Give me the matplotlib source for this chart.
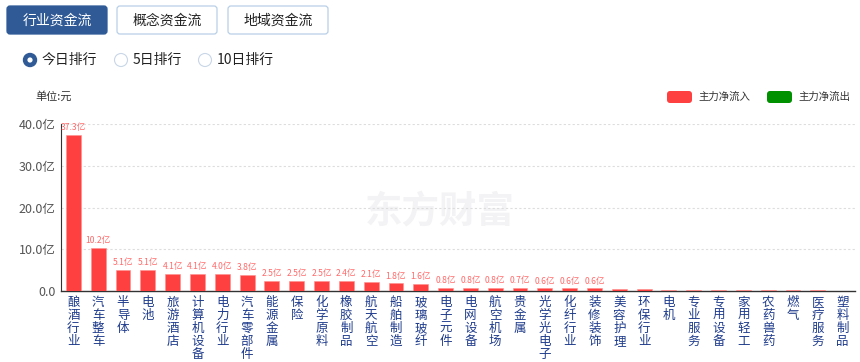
import matplotlib
matplotlib.use("Agg")
import matplotlib.pyplot as plt
from matplotlib.patches import FancyBboxPatch, Circle
from matplotlib.transforms import blended_transform_factory

plt.rcParams['font.family'] = ['Noto Sans CJK SC', 'DejaVu Sans']

# data
categories = ["酿酒行业", "汽车整车", "半导体", "电池", "旅游酒店", "计算机设备", "电力行业",
              "汽车零部件", "能源金属", "保险", "化学原料", "橡胶制品", "航天航空", "船舶制造",
              "玻璃玻纤", "电子元件", "电网设备", "航空机场", "贵金属", "光学光电子", "化纤行业",
              "装修装饰", "美容护理", "环保行业", "电机", "专业服务", "专用设备", "家用轻工",
              "农药兽药", "燃气", "医疗服务", "塑料制品"]
inflow = [37.3, 10.2, 5.1, 5.1, 4.1, 4.1, 4.0, 3.8, 2.5, 2.5, 2.5, 2.4, 2.1, 1.8,
          1.6, 0.8, 0.8, 0.8, 0.7, 0.6, 0.6, 0.6, 0.5, 0.4, 0.35, 0.35, 0.3, 0.25,
          0.2, 0.2, 0.15, 0.1]
n_labeled = 22
yticks = [0, 10, 20, 30, 40]
ytick_labels = ["0.0", "10.0亿", "20.0亿", "30.0亿", "40.0亿"]

W, H = 860, 362
fig = plt.figure(figsize=(W / 100, H / 100), dpi=100)

# overlay in pixel coords for the UI bits
ui = fig.add_axes([0, 0, 1, 1])
ui.set_xlim(0, W)
ui.set_ylim(H, 0)
ui.axis("off")

tabs = [("行业资金流", 7, True), ("概念资金流", 117, False), ("地域资金流", 228, False)]
for label, x0, active in tabs:
    ui.add_patch(FancyBboxPatch((x0, 6), 100, 28, boxstyle="round,pad=0,rounding_size=3",
                                fc="#2f5a96" if active else "white",
                                ec="#2f5a96" if active else "#b8cfe6", lw=0.9))
    ui.text(x0 + 50, 20.5, label, ha="center", va="center", fontsize=10,
            color="white" if active else "#222222")

radios = [("今日排行", 30, True), ("5日排行", 121, False), ("10日排行", 205, False)]
for label, cx, on in radios:
    if on:
        ui.add_patch(Circle((cx, 60), 6.5, fc="#2f5a96", ec="#2f5a96"))
        ui.add_patch(Circle((cx, 60), 2.6, fc="white", ec="none"))
    else:
        ui.add_patch(Circle((cx, 60), 6.5, fc="white", ec="#c8d6e6", lw=0.8))
    ui.text(cx + 12, 60, label, ha="left", va="center", fontsize=10, color="#222222")

ui.text(35, 96, "单位:元", ha="left", va="center", fontsize=8, color="#333333")

for label, x0, col in [("主力净流入", 667, "#ff4040"), ("主力净流出", 767, "#009100")]:
    ui.add_patch(FancyBboxPatch((x0, 91), 25, 12, boxstyle="round,pad=0,rounding_size=3",
                                fc=col, ec="none"))
    ui.text(x0 + 31, 97, label, ha="left", va="center", fontsize=7.5, color="#333333")

ui.text(440, 212, "东方财富", ha="center", va="center", fontsize=27, fontweight="bold",
        color="#f3f3f5", zorder=0)

# chart
ax = fig.add_axes([61 / W, 1 - 291 / H, (855 - 61) / W, (291 - 124) / H])
ax.patch.set_alpha(0)
x = list(range(len(categories)))
ax.bar(x, inflow, width=0.6, color="#ff4040", edgecolor="#ff9090", linewidth=0.4, zorder=3)
ax.set_xlim(-0.5, len(categories) - 0.5)
ax.set_ylim(0, 40)
ax.set_yticks(yticks)
ax.set_yticklabels(ytick_labels, fontsize=9, color="#555555")
ax.tick_params(axis="y", length=0, pad=4)
ax.set_xticks([])
for s in ["top", "right"]:
    ax.spines[s].set_visible(False)
ax.spines["left"].set_color("#333333")
ax.spines["left"].set_linewidth(0.8)
ax.spines["bottom"].set_color("#333333")
ax.spines["bottom"].set_linewidth(1.0)
for yv in yticks[1:]:
    ax.axhline(yv, color="#dddddd", ls=(0, (2, 2)), lw=0.8, zorder=1)

for i in range(n_labeled):
    ax.text(x[i], inflow[i] + 0.7, f"{inflow[i]:.1f}亿", ha="center", va="bottom",
            fontsize=6.2, color="#ff6a6a")

trans = blended_transform_factory(ax.transData, ax.transAxes)
for i, name in enumerate(categories):
    ax.text(x[i], -0.03, "\n".join(name), transform=trans, ha="center", va="top",
            fontsize=9, color="#1f3c8c", linespacing=1.0)

fig.savefig("out.png", dpi=100)
